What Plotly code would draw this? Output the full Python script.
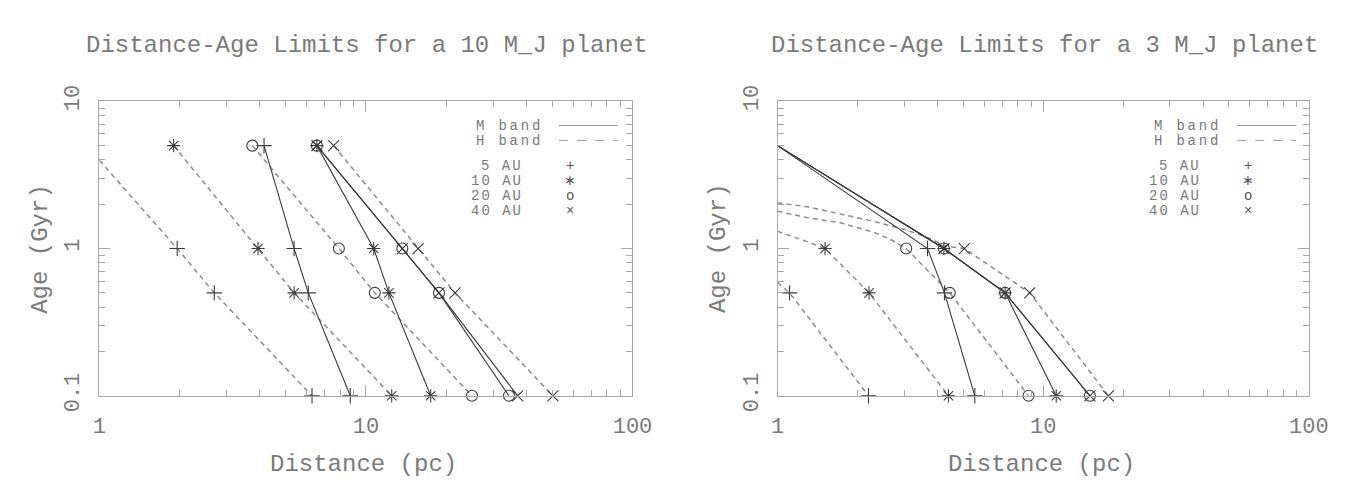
import plotly.graph_objects as go

# ---------------- data ----------------
AGES = [5, 1, 0.5, 0.1]                 # Gyr, ages at which markers are drawn
AU_NAMES = ["5 AU", "10 AU", "20 AU", "40 AU"]
BAND_NAMES = ["M band", "H band"]
X_TICKS = [1, 10, 100]
X_TICK_TEXT = ["1", "10", "100"]
Y_TICKS = [0.1, 1, 10]
Y_TICK_TEXT = ["0.1", "1", "10"]
TITLES = ["Distance-Age Limits for a 10 M_J planet",
          "Distance-Age Limits for a 3 M_J planet"]

# Left panel (10 M_J): distances (pc) at AGES, None = outside frame
L_M_5 = [4.15, 5.38, 6.08, 8.74]
L_M_10 = [6.55, 10.7, 12.2, 17.5]
L_M_20 = [6.55, 13.7, 18.8, 34.4]
L_M_40 = [6.55, 13.7, 18.8, 37.1]
L_H_5 = [None, 1.96, 2.70, 6.28]
L_H_10 = [1.90, 3.94, 5.38, 12.5]
L_H_20 = [3.75, 7.92, 10.8, 25.0]
L_H_40 = [7.57, 15.7, 21.6, 50.3]
# unmarked line vertices before the first marker (distance, age)
L_H_5_LEAD_D = [1.0]
L_H_5_LEAD_AGE = [3.98]

# Right panel (3 M_J)
R_M_5 = [None, 3.67, 4.25, 5.53]
R_M_10 = [None, 4.23, 7.19, 11.2]
R_M_20 = [None, 4.23, 7.19, 15.0]
R_M_40 = [None, 4.23, 7.19, 15.0]
R_H_5 = [None, None, 1.11, 2.20]
R_H_10 = [None, 1.51, 2.21, 4.40]
R_H_20 = [None, 3.05, 4.45, 8.81]
R_H_40 = [None, 5.05, 8.90, 17.6]
R_M_LEAD_D = [1.0]
R_M_LEAD_AGE = [5.0]
R_H_5_LEAD_D = [1.0]
R_H_5_LEAD_AGE = [0.59]
R_H_10_LEAD_D = [1.0, 1.165, 1.30]
R_H_10_LEAD_AGE = [1.31, 1.196, 1.11]
R_H_20_LEAD_D = [1.0, 1.30, 1.74, 2.30, 2.65]
R_H_20_LEAD_AGE = [1.79, 1.62, 1.49, 1.29, 1.16]
R_H_40_LEAD_D = [1.0, 1.30, 1.74, 2.30, 3.04, 3.80, 4.24]
R_H_40_LEAD_AGE = [2.04, 1.92, 1.71, 1.53, 1.34, 1.16, 1.04]

# ---------------- styling ----------------
W, H = 1359, 489
FONT = "Liberation Mono"
TXT = "#7a7a7a"
FRAME = "#a8a8a8"
M_COLOR = "#3a3a3a"
H_COLOR = "#8c8c8c"
MK_COLOR = "#3c3c3c"
SYMBOLS = ["cross-thin-open", "asterisk-open", "circle-open", "x-thin-open"]
LEG_SYMS = ["+", "\u2217", "o", "\u00d7"]

FRAME_L = [86, 778]
FRAME_R = [630, 1320]
FRAME_T, FRAME_B = 82, 398.5


def px(x):
    return x / W


def py(y):
    return 1 - y / H


panels = [
    dict(xa="x", ya="y",
         M=[L_M_5, L_M_10, L_M_20, L_M_40],
         H=[L_H_5, L_H_10, L_H_20, L_H_40],
         M_lead=[([], []), ([], []), ([], []), ([], [])],
         H_lead=[(L_H_5_LEAD_D, L_H_5_LEAD_AGE), ([], []), ([], []), ([], [])]),
    dict(xa="x2", ya="y2",
         M=[R_M_5, R_M_10, R_M_20, R_M_40],
         H=[R_H_5, R_H_10, R_H_20, R_H_40],
         M_lead=[(R_M_LEAD_D, R_M_LEAD_AGE)] * 4,
         H_lead=[(R_H_5_LEAD_D, R_H_5_LEAD_AGE), (R_H_10_LEAD_D, R_H_10_LEAD_AGE),
                 (R_H_20_LEAD_D, R_H_20_LEAD_AGE), (R_H_40_LEAD_D, R_H_40_LEAD_AGE)]),
]

fig = go.Figure()


def add_series(p, dists, lead, color, dash, width, symbol):
    md = [d for d in dists if d is not None]
    ma = [a for d, a in zip(dists, AGES) if d is not None]
    lx = list(lead[0]) + md
    ly = list(lead[1]) + ma
    fig.add_trace(go.Scatter(x=lx, y=ly, mode="lines", xaxis=p["xa"], yaxis=p["ya"],
                             line=dict(color=color, width=width, dash=dash),
                             showlegend=False, hoverinfo="skip"))
    fig.add_trace(go.Scatter(x=md, y=ma, mode="markers", xaxis=p["xa"], yaxis=p["ya"],
                             marker=dict(symbol=symbol, size=11, color=MK_COLOR,
                                         line=dict(color=MK_COLOR, width=1.1)),
                             cliponaxis=False, showlegend=False))


for p in panels:
    for i in range(4):
        add_series(p, p["H"][i], p["H_lead"][i], H_COLOR, "5px,4px", 1.5, SYMBOLS[i])
    for i in range(4):
        add_series(p, p["M"][i], p["M_lead"][i], M_COLOR, "solid", 1.1, SYMBOLS[i])

minor_x = [v * m for m in (1, 10) for v in range(2, 10)]
minor_y = [v * m for m in (0.1, 1) for v in range(2, 10)]


def axis(tickvals, ticktext, minor_vals, rng, domain, angle, standoff, anchor):
    return dict(type="log", range=rng, domain=domain, anchor=anchor,
                showgrid=False, zeroline=False, showline=True,
                linecolor=FRAME, linewidth=1, mirror="allticks",
                ticks="inside", ticklen=11, tickwidth=1, tickcolor=FRAME,
                tickmode="array", tickvals=tickvals, ticktext=ticktext,
                tickangle=angle, ticklabelstandoff=standoff,
                tickfont=dict(family=FONT, size=22, color=TXT),
                minor=dict(tickmode="array", tickvals=minor_vals, ticks="inside",
                           ticklen=6, tickwidth=1, tickcolor=FRAME, showgrid=False),
                fixedrange=True)


ydom = [py(FRAME_B), py(FRAME_T)]
layout = dict(
    width=W, height=H, margin=dict(l=0, r=0, t=0, b=0),
    paper_bgcolor="white", plot_bgcolor="white", showlegend=False,
    xaxis=axis(X_TICKS, X_TICK_TEXT, minor_x, [0, 2], [px(FRAME_L[0]), px(FRAME_R[0])], 0, 10, "y"),
    yaxis=axis(Y_TICKS, Y_TICK_TEXT, minor_y, [-1, 1], ydom, -90, 10, "x"),
    xaxis2=axis(X_TICKS, X_TICK_TEXT, minor_x, [0, 2], [px(FRAME_L[1]), px(FRAME_R[1])], 0, 10, "y2"),
    yaxis2=axis(Y_TICKS, Y_TICK_TEXT, minor_y, [-1, 1], ydom, -90, 10, "x2"),
)
fig.update_layout(**layout)


def spaced(s, ls):
    return "<span style='letter-spacing:%.1fpx'>%s</span>" % (ls, s)


LEG_SIZE = 14
ann = []
shapes = []
for k in range(2):
    x0, x1 = FRAME_L[k], FRAME_R[k]
    cx = (x0 + x1) / 2
    ann.append(dict(text=TITLES[k], x=px(cx + 1), y=py(22), xref="paper", yref="paper",
                    showarrow=False, font=dict(family=FONT, size=24, color=TXT),
                    xanchor="center", yanchor="middle"))
    ann.append(dict(text="Distance (pc)", x=px(cx - 2), y=py(472), xref="paper", yref="paper",
                    showarrow=False, font=dict(family=FONT, size=24, color=TXT),
                    xanchor="center", yanchor="middle"))
    ann.append(dict(text="Age (Gyr)", x=px(x0 - 60), y=py(240), xref="paper", yref="paper",
                    showarrow=False, textangle=-90, font=dict(family=FONT, size=24, color=TXT),
                    xanchor="center", yanchor="middle"))
    dx = x0 - 778
    # legend: bands
    for j, yy in enumerate([109, 125]):
        ann.append(dict(text=spaced(BAND_NAMES[j], 2.8), x=px(1160 + dx), y=py(yy),
                        xref="paper", yref="paper", showarrow=False,
                        font=dict(family=FONT, size=LEG_SIZE, color=TXT),
                        xanchor="left", yanchor="middle"))
        shapes.append(dict(type="line", xref="paper", yref="paper",
                           x0=px(1247 + dx), x1=px(1307 + dx), y0=py(yy - 1), y1=py(yy - 1),
                           line=dict(color="#999999", width=1, dash="solid" if j == 0 else "dash")))
    # legend: separations and symbols
    for i, yy in enumerate([152, 168, 184, 200]):
        ann.append(dict(text=spaced(AU_NAMES[i], 2.0), x=px(1212 + dx), y=py(yy),
                        xref="paper", yref="paper", showarrow=False,
                        font=dict(family=FONT, size=LEG_SIZE, color=TXT),
                        xanchor="right", yanchor="middle"))
        ann.append(dict(text=LEG_SYMS[i], x=px(1258 + dx), y=py(yy),
                        xref="paper", yref="paper", showarrow=False,
                        font=dict(family=FONT, size=LEG_SIZE, color="#555555"),
                        xanchor="center", yanchor="middle"))

fig.update_layout(annotations=ann, shapes=shapes)
fig.write_html("out.html")
